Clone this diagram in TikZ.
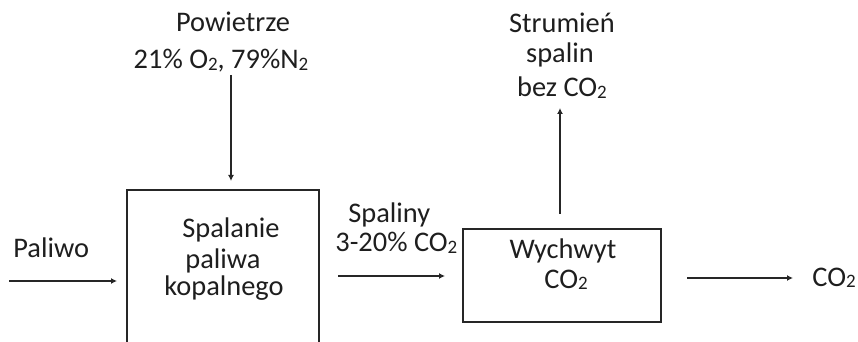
\documentclass[tikz,border=0pt]{standalone}
\usepackage{fontspec}
\setmainfont{Carlito}
\usetikzlibrary{arrows.meta}
\definecolor{txt}{RGB}{30,30,30}
\newcommand\fs{\fontsize{14.2}{17}\selectfont}
\newcommand\chsub[1]{{\fontsize{9.5}{10}\selectfont\raisebox{-0.15ex}{#1}}}
\begin{document}
\begin{tikzpicture}[x=0.5pt,y=-0.5pt,
  lbl/.style={font=\fs, text=txt, inner sep=0pt, anchor=base},
  box/.style={draw=black!85, line width=0.8pt, inner sep=0pt, fill=none},
  arr/.style={draw=black!85, line width=0.65pt, -{Latex[length=3pt,width=3pt]}}]
\useasboundingbox (0,0) rectangle (858,342);
\clip (0,0) rectangle (858,342);
% boxes
\node[box, minimum width=96pt, minimum height=85pt] (box1) at (223,275) {};
\node[box, minimum width=99pt, minimum height=46.5pt] (box2) at (562,275.5) {};
% labels
\node[lbl] (air1) at (233,32) {Powietrze};
\node[lbl] (air2) at (221,69) {21\% O\chsub{2}, 79\%N\chsub{2}};
\node[lbl, anchor=base west] (fuel) at (13,257) {Paliwo};
\node[lbl] (s1) at (231,238) {Spalanie};
\node[lbl] (s2) at (223,269) {paliwa};
\node[lbl] (s3) at (224,296) {kopalnego};
\node[lbl, anchor=base west] (f1) at (348,223) {Spaliny};
\node[lbl, anchor=base west] (f2) at (335,252) {3-20\% CO\chsub{2}};
\node[lbl] (w1) at (563,258) {Wychwyt};
\node[lbl] (w2) at (566,288) {CO\chsub{2}};
\node[lbl] (o1) at (562,33) {Strumień};
\node[lbl] (o2) at (560,63) {spalin};
\node[lbl] (o3) at (562,97) {bez CO\chsub{2}};
\node[lbl, anchor=base west] (co2) at (812,286) {CO\chsub{2}};
% connectors
\coordinate (a0) at (231,75);
\coordinate (a1) at (231,181);
\draw[arr] (a0) -- (a1);
\coordinate (p0) at (9,281);
\coordinate (p1) at (117,281);
\draw[arr] (p0) -- (p1);
\coordinate (g0) at (338,276);
\coordinate (g1) at (445,276);
\draw[arr] (g0) -- (g1);
\coordinate (u0) at (560,214);
\coordinate (u1) at (560,108);
\draw[arr] (u0) -- (u1);
\coordinate (r0) at (687,278);
\coordinate (r1) at (793,278);
\draw[arr] (r0) -- (r1);
\end{tikzpicture}
\end{document}
